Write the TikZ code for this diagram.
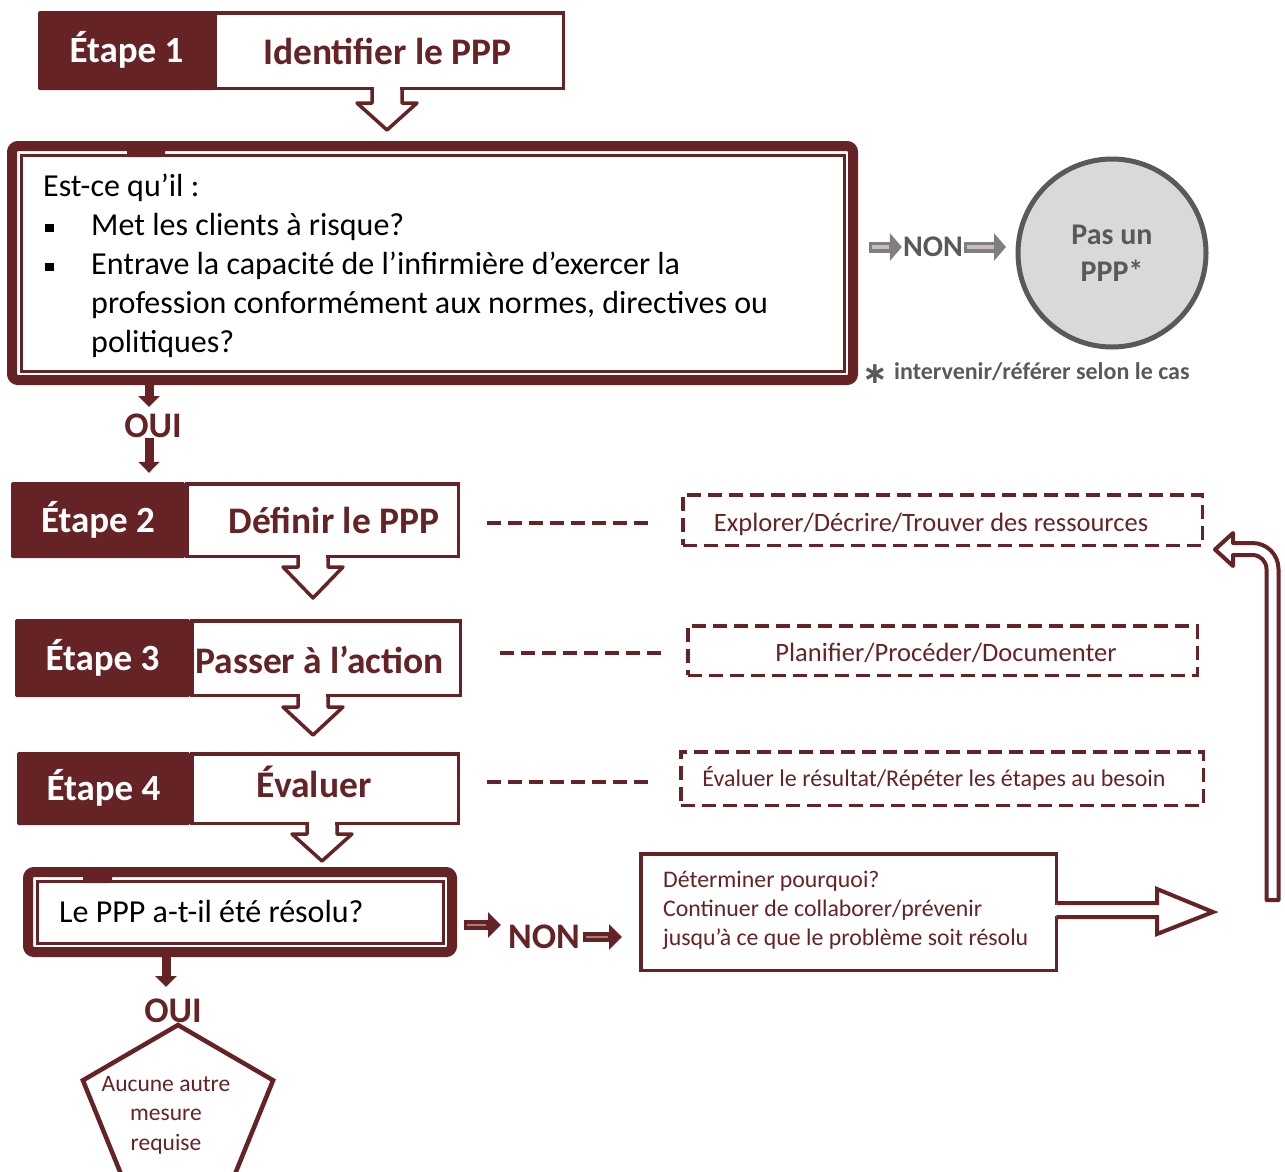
\documentclass[tikz,border=0pt]{standalone}
\usepackage{fontspec}
\setmainfont{Carlito}
\newfontfamily\djv{DejaVu Sans}
\usetikzlibrary{arrows.meta,calc}
\definecolor{maroon}{HTML}{652325}
\definecolor{dgray}{HTML}{595959}
\definecolor{cgray}{HTML}{D9D9D9}
\definecolor{agray}{HTML}{7F7F7F}
\definecolor{hlgray}{HTML}{CBBDBD}
\definecolor{hlmar}{HTML}{A87C7C}
\newcommand\fsz[2]{\fontsize{#1}{#2}\selectfont}
\newcommand\sqbul{\rule[3.5pt]{8.5pt}{8.5pt}}
\tikzset{pics/notch/.style 2 args={code={
  \fill[white] (-13.25,-5) rectangle (13.25,#1);
  \draw[maroon, line width=3.5pt, line join=round] (-15,-1.75) -- (-15,#1) -- (-30,#1) -- (0,#1+#2) -- (30,#1) -- (15,#1) -- (15,-1.75);
}}}
\begin{document}
\begin{tikzpicture}[x=1pt,y=-1pt,
  darkblk/.style={fill=maroon, rounded corners=1.5pt, inner sep=0pt, text=white, font=\fsz{37}{44}\bfseries, text height=24pt, text depth=0pt},
  whiteblk/.style={fill=white, draw=maroon, line width=3.5pt, inner sep=0pt},
  ttl/.style={text=maroon, font=\fsz{37.5}{44}\bfseries, inner sep=0pt, text height=24pt, text depth=0pt},
  thickbox/.style={draw=maroon, fill=white, line width=10pt, rounded corners=6pt, inner sep=0pt},
  dashbox/.style={draw=maroon, line width=3.5pt, dash pattern=on 14pt off 7pt, inner sep=0pt},
  dashconn/.style={draw=maroon, line width=3.5pt, dash pattern=on 14pt off 7pt},
  dashtext/.style={text=maroon, inner sep=0pt, anchor=base},
  ouiarr/.style={draw=maroon, line width=9pt, -{Triangle[length=11pt,width=21pt]}},
  nonarr/.style={draw=maroon, line width=10pt, -{Triangle[length=13pt,width=25pt]}},
  grayarr/.style={draw=agray, line width=11pt, -{Triangle[length=12pt,width=27pt]}},
  bigtext/.style={font=\fsz{36}{40}\bfseries, inner sep=0pt},
]
\useasboundingbox (0,0) rectangle (1285,1171);

% ---------- Step 1
\node[whiteblk, minimum width=348.5pt, minimum height=75.5pt] (w1) at (389,50.5) {};
\node[darkblk, minimum width=177pt, minimum height=79pt] (s1) at (126.5,50.5) {Étape 1};
\node[ttl] (t1) at (387.5,52) {Identifier le PPP};
\pic at ([xshift=-2pt]w1.south) {notch={13}{27}};

% ---------- Question box 1
\node[thickbox, minimum width=841pt, minimum height=234pt] (q1) at (432.5,263) {};
\draw[maroon, line width=3pt] ([shift={(14,14)}]q1.north west) rectangle ([shift={(-14,-14)}]q1.south east);
\fill[maroon, rounded corners=3pt] (127,141) rectangle (165,157);
\node[anchor=north west, inner sep=0pt, font=\fsz{32}{39}] (q1txt) at (43,169)
 {\begin{tabular}{@{}p{48pt}@{}l@{}}
  \multicolumn{2}{@{}l@{}}{Est-ce qu’il :}\\
  \hspace*{2pt}\sqbul & Met les clients à risque?\\
  \hspace*{2pt}\sqbul & Entrave la capacité de l’infirmière d’exercer la\\
  & profession conformément aux normes, directives ou\\
  & politiques?
 \end{tabular}};

% ---------- NON (gray) and circle
\node[inner sep=1pt, text=dgray, font=\fsz{30}{36}\bfseries] (non1) at (933,247) {NON};
\node[circle, draw=dgray, fill=cgray, line width=5pt, minimum size=188pt, inner sep=0pt, align=center, text=dgray, font=\fsz{30}{37}\bfseries] (circ) at (1112,253) {Pas un\\PPP*};
\draw[grayarr, shorten <=11pt] (q1.east |- non1) -- (non1.west);
\draw[hlgray, line width=4pt, shorten <=14pt, shorten >=13pt] (q1.east |- non1) -- (non1.west);
\draw[grayarr, shorten >=9.5pt] (non1.east) -- (circ.west |- non1);
\draw[hlgray, line width=4pt, shorten <=3pt, shorten >=22pt] (non1.east) -- (circ.west |- non1);
\node[inner sep=0pt, text=dgray, font=\djv\fsz{30}{34}\bfseries] (star) at (875,374) {∗};
\node[anchor=base west, inner sep=0pt, text=dgray, font=\fsz{24}{29}\bfseries] (note) at (894,379) {intervenir/référer selon le cas};

% ---------- OUI 1
\coordinate (o1tip) at (149,407);
\node[bigtext, text=maroon] (oui1) at (153,426) {OUI};
\draw[ouiarr] (q1.south -| o1tip) -- (o1tip);

% ---------- Step 2
\node[whiteblk, minimum width=271.5pt, minimum height=72.5pt] (w2) at (322.5,520) {};
\node[darkblk, minimum width=174pt, minimum height=76pt] (s2) at (98,520) {Étape 2};
\node[ttl] (t2) at (334,521) {Définir le PPP};
\pic at ([xshift=-9.5pt]w2.south) {notch={9}{31}};
\draw[ouiarr, shorten >=9pt] (oui1.south -| o1tip) -- (s2.north -| o1tip);
\node[dashbox, minimum width=519.5pt, minimum height=50.5pt] (d2) at (942.5,520) {};
\node[dashtext, font=\fsz{26.5}{32}] (x2) at (931,531) {Explorer/Décrire/Trouver des ressources};
\draw[dashconn, shorten <=27pt, shorten >=30pt] ([yshift=-3pt]w2.east) -- ([yshift=-3pt]w2.east -| d2.west);

% ---------- Step 3
\node[whiteblk, minimum width=268.5pt, minimum height=74.5pt] (w3) at (326,658) {};
\node[darkblk, minimum width=175pt, minimum height=78pt] (s3) at (102.5,658) {Étape 3};
\node[ttl] (t3) at (319.5,661) {Passer à l’action};
\pic at ([xshift=-13pt]w3.south) {notch={10}{28}};
\node[dashbox, minimum width=509.5pt, minimum height=49.5pt] (d3) at (942.5,650.5) {};
\node[dashtext, font=\fsz{26.5}{32}] (x3) at (946,661) {Planifier/Procéder/Documenter};
\draw[dashconn, shorten <=38pt, shorten >=25pt] ([yshift=5pt]w3.east) -- ([yshift=5pt]w3.east -| d3.west);

% ---------- Step 4
\node[whiteblk, minimum width=266.5pt, minimum height=69.5pt] (w4) at (325,788.5) {};
\node[darkblk, minimum width=173pt, minimum height=73pt] (s4) at (103.5,788.5) {Étape 4};
\node[ttl] (t4) at (314,785) {Évaluer};
\pic at ([xshift=-3pt]w4.south) {notch={9}{27}};
\node[dashbox, minimum width=522.5pt, minimum height=53.5pt] (d4) at (942,778.5) {};
\node[dashtext, font=\fsz{24}{29}] (x4) at (934,786) {Évaluer le résultat/Répéter les étapes au besoin};
\draw[dashconn, shorten <=27pt, shorten >=26pt] ([yshift=6.5pt]w4.east) -- ([yshift=6.5pt]w4.east -| d4.west);

% ---------- Question box 2
\node[thickbox, minimum width=424pt, minimum height=80pt] (q2) at (240,912) {};
\draw[maroon, line width=3pt] ([shift={(14,14)}]q2.north west) rectangle ([shift={(-14,-14)}]q2.south east);
\fill[maroon, rounded corners=3pt] (83,867) rectangle (112,883);
\node[anchor=base west, inner sep=0pt, font=\fsz{32}{39}] (q2txt) at (59,922) {Le PPP a-t-il été résolu?};

% ---------- NON 2 and "Déterminer" box
\node[draw=maroon, line width=3.5pt, minimum width=415.5pt, minimum height=116.5pt, inner sep=0pt] (det) at (848.5,912) {};
\node[anchor=north west, inner sep=0pt, text=maroon, font=\fsz{23.8}{29}] (dettxt) at (663,867.2)
 {\begin{tabular}{@{}l@{}}Déterminer pourquoi?\\Continuer de collaborer/prévenir\\jusqu’à ce que le problème soit résolu\end{tabular}};
\coordinate (n2a) at (501,925);
\node[bigtext, text=maroon] (non2) at (544,937) {NON};
\draw[nonarr, shorten <=7pt] (q2.east |- n2a) -- (n2a);
\draw[hlmar, line width=2pt, shorten <=10pt, shorten >=15pt] (q2.east |- n2a) -- (n2a);
\draw[nonarr, shorten <=3pt, shorten >=17pt] (non2.east) -- (det.west |- non2);
\draw[hlmar, line width=2pt, shorten <=6pt, shorten >=31pt] (non2.east) -- (det.west |- non2);

% big outline arrow out of the box
\coordinate (da) at ([yshift=2pt]det.east);
\fill[white] ([shift={(-4,-5.5)}]da) rectangle ([shift={(3,5.5)}]da);
\draw[maroon, line width=4pt, line join=miter, fill=white] ([shift={(-1.75,-7)}]da) -- ([shift={(99,-7)}]da) -- ([shift={(99,-21)}]da) -- ([shift={(155,2)}]da) -- ([shift={(99,24)}]da) -- ([shift={(99,7)}]da) -- ([shift={(-1.75,7)}]da);

% feedback arrow
\draw[maroon, line width=4pt, fill=white, line join=round]
  (1266.5,900) -- (1266.5,569) arc[start angle=0,end angle=-90,radius=14] -- (1233,555) -- (1233,566) -- (1215,549.5) -- (1233,533) -- (1233,543) -- (1252.5,543) arc[start angle=-90,end angle=0,radius=26] -- (1278.5,900) -- cycle;

% ---------- OUI 2 and pentagon
\begin{scope}
\clip (0,0) rectangle (1285,1171);
\draw[maroon, line width=4.5pt, line join=miter] (178,1025) -- (273.1,1080.3) -- (233.4,1178) -- (122.6,1178) -- (82.9,1080.3) -- cycle;
\end{scope}
\node[anchor=north, inner sep=0pt, text=maroon, font=\fsz{23.5}{29.5}] (pent) at (166,1070.4)
 {\begin{tabular}{@{}c@{}}Aucune autre\\mesure\\requise\end{tabular}};
\coordinate (o2tip) at (166,987);
\node[bigtext, text=maroon] (oui2) at (173,1011) {OUI};
\draw[ouiarr] (q2.south -| o2tip) -- (o2tip);
\end{tikzpicture}
\end{document}
